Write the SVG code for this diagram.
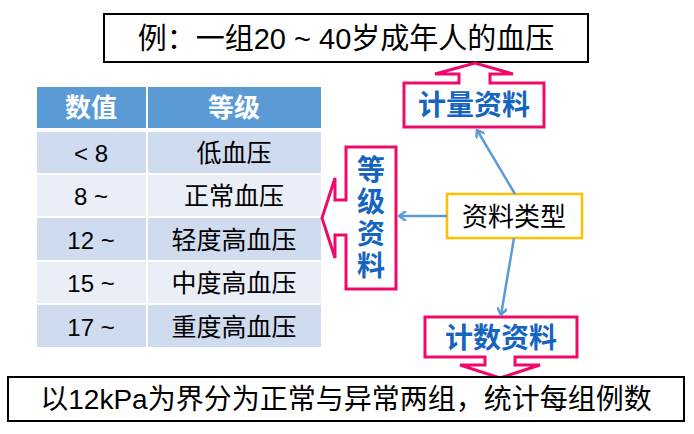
<svg xmlns="http://www.w3.org/2000/svg" width="694" height="434" viewBox="0 0 694 434">
<style>
.cn{font-family:"Liberation Sans","Noto Sans CJK SC",sans-serif}
.co{fill:#fff;stroke:#ee0a6a;stroke-width:3}
.bt{fill:#1565c0;font-size:28px;font-weight:bold}
.tt{font-size:25px;fill:#000}
.nm{font-size:24px;fill:#000}
.hd{fill:#fff;font-size:26px;font-weight:bold}
.c{stroke:#5b9bd5;stroke-width:2.5;fill:none;marker-end:url(#a)}
</style>
<defs><marker id="a" markerWidth="10" markerHeight="10" refX="8" refY="5" orient="auto" markerUnits="userSpaceOnUse"><path d="M1,0 L8,5 L1,10" fill="none" stroke="#5b9bd5" stroke-width="2.5"/></marker></defs>
<rect width="694" height="434" fill="#fff"/>
<g id="title"><rect x="104" y="14" width="484" height="48" fill="#fff" stroke="#000" stroke-width="2"/><text class="cn" x="346" y="49" font-size="29" text-anchor="middle">例：一组20 ~ 40岁成年人的血压</text></g>
<g id="table" class="cn">
<rect x="37" y="87" width="109" height="41" fill="#5b9bd5"/><rect x="148" y="87" width="173" height="41" fill="#5b9bd5"/>
<text class="hd" x="91" y="117" text-anchor="middle">数值</text><text class="hd" x="234" y="117" text-anchor="middle">等级</text>
<g fill="#cfdbee"><rect x="37" y="132" width="109" height="41"/><rect x="148" y="132" width="173" height="41"/>
<rect x="37" y="218" width="109" height="42"/><rect x="148" y="218" width="173" height="42"/>
<rect x="37" y="305" width="109" height="42"/><rect x="148" y="305" width="173" height="42"/></g>
<g fill="#e9eef7"><rect x="37" y="175" width="109" height="41"/><rect x="148" y="175" width="173" height="41"/>
<rect x="37" y="262" width="109" height="41"/><rect x="148" y="262" width="173" height="41"/></g>
<g text-anchor="middle">
<text class="nm" x="91" y="162">&lt; 8</text><text class="tt" x="234" y="162">低血压</text>
<text class="nm" x="91" y="205">8 ~</text><text class="tt" x="234" y="205">正常血压</text>
<text class="nm" x="91" y="249">12 ~</text><text class="tt" x="234" y="249">轻度高血压</text>
<text class="nm" x="91" y="292">15 ~</text><text class="tt" x="234" y="292">中度高血压</text>
<text class="nm" x="91" y="336">17 ~</text><text class="tt" x="234" y="336">重度高血压</text></g>
</g>
<g id="jiliang"><path class="co" d="M404,83 H459 V74 H435 L475,63 L513,74 H490 V83 H544 V127 H404 Z"/><text class="cn bt" x="474" y="115" text-anchor="middle">计量资料</text></g>
<g id="dengji"><path class="co" d="M346,147 H396 V289 H346 V235 H335 V258 L322,218 L335,178 V200 H346 Z"/>
<g class="cn bt" text-anchor="middle"><text x="371" y="180">等</text><text x="371" y="212">级</text><text x="371" y="244">资</text><text x="371" y="276">料</text></g></g>
<g id="jishu"><path class="co" d="M425,317 H577 V357 H515 V365 H540 L500,378 L460,365 H485 V357 H425 Z"/><text class="cn bt" x="501" y="348" text-anchor="middle">计数资料</text></g>
<g id="leixing"><rect x="447" y="194" width="135" height="44" fill="#fff" stroke="#ffc000" stroke-width="2.5"/><text class="cn" x="514" y="226" font-size="26" text-anchor="middle">资料类型</text></g>
<g id="bottom"><rect x="8" y="377" width="676" height="44" fill="#fff" stroke="#000" stroke-width="2"/><text class="cn" x="346" y="409" font-size="28" text-anchor="middle">以12kPa为界分为正常与异常两组，统计每组例数</text></g>
<g id="connectors">
<line class="c" x1="515" y1="194" x2="477" y2="130"/>
<line class="c" x1="447" y1="216" x2="399" y2="216"/>
<line class="c" x1="514" y1="238" x2="501" y2="315"/>
</g>
</svg>
